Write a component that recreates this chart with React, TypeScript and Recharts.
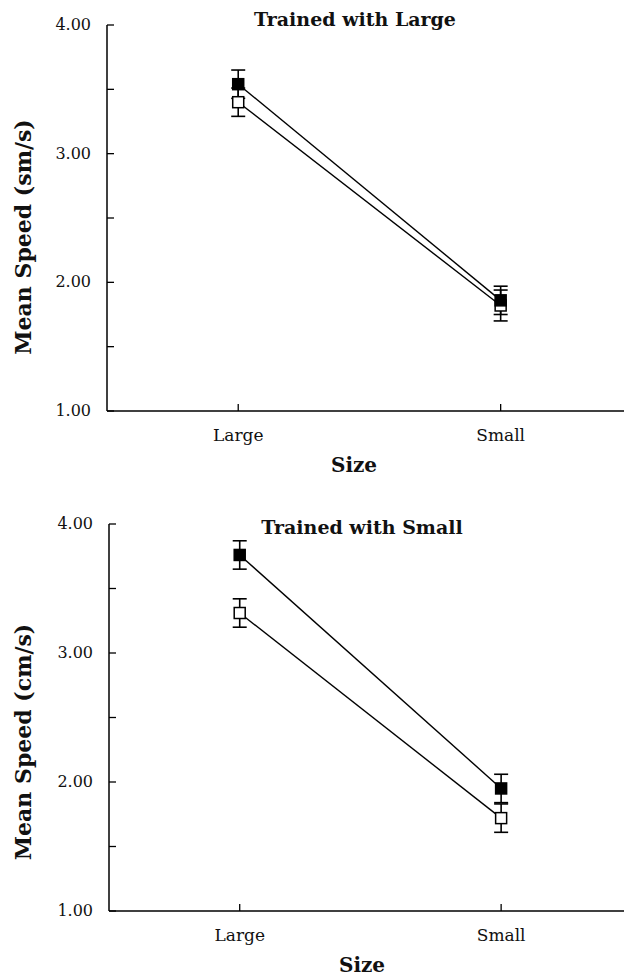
import { ErrorBar, Line, LineChart, XAxis, YAxis } from "recharts";

const SIZES = ["Large", "Small"];
const Y_TICKS = [1, 1.5, 2, 2.5, 3, 3.5, 4];

// trained with large
const LARGE_FILLED = [3.54, 1.86];
const LARGE_FILLED_ERR = [0.11, 0.11];
const LARGE_OPEN = [3.4, 1.82];
const LARGE_OPEN_ERR = [0.11, 0.12];

// trained with small
const SMALL_FILLED = [3.76, 1.95];
const SMALL_FILLED_ERR = [0.11, 0.11];
const SMALL_OPEN = [3.31, 1.72];
const SMALL_OPEN_ERR = [0.11, 0.11];

const FONT = "'DejaVu Serif', 'Liberation Serif', serif";

function buildRows(filled: number[], filledErr: number[], open: number[], openErr: number[]) {
  return SIZES.map((size, i) => ({
    x: i,
    size,
    filled: filled[i],
    filledErr: filledErr[i],
    open: open[i],
    openErr: openErr[i],
  }));
}

const YTick = (props: any) => {
  const { x, y, payload } = props;
  const v = payload.value as number;
  return (
    <g>
      <line x1={x} x2={x + 7} y1={y} y2={y} stroke="#000" strokeWidth={1.3} />
      {Number.isInteger(v) && (
        <text x={x - 16} y={y} dy={5} textAnchor="end" fontFamily={FONT} fontSize={16} fill="#111">
          {v.toFixed(2)}
        </text>
      )}
    </g>
  );
};

const XTick = (props: any) => {
  const { x, y, payload } = props;
  return (
    <g>
      <line x1={x} x2={x} y1={y} y2={y - 7} stroke="#000" strokeWidth={1.3} />
      <text x={x} y={y + 30} textAnchor="middle" fontFamily={FONT} fontSize={17} fill="#111">
        {SIZES[payload.value]}
      </text>
    </g>
  );
};

const squareDot = (fill: string) => (p: any) => (
  <rect key={p.index} x={p.cx - 5.5} y={p.cy - 5.5} width={11} height={11} fill={fill} stroke="#000" strokeWidth={1.5} />
);

type PanelProps = {
  title: string;
  yLabel: string;
  rows: ReturnType<typeof buildRows>;
  top: number;
  marginTop: number;
  yAxisWidth: number;
  xAxisHeight: number;
  titleX: number;
  titleY: number;
  yLabelY: number;
  sizeX: number;
};

function Panel(p: PanelProps) {
  return (
    <div style={{ position: "absolute", left: 0, top: p.top }}>
      <LineChart width={624} height={488} data={p.rows} margin={{ top: p.marginTop, right: 0, bottom: 0, left: 0 }}>
        <XAxis
          dataKey="x"
          type="number"
          domain={[-0.5, 1.47]}
          allowDataOverflow
          ticks={[0, 1]}
          height={p.xAxisHeight}
          tickSize={0}
          tickMargin={0}
          tick={<XTick />}
          axisLine={{ stroke: "#000", strokeWidth: 1.5 }}
        />
        <YAxis
          type="number"
          domain={[1, 4]}
          ticks={Y_TICKS}
          width={p.yAxisWidth}
          tickSize={0}
          tickMargin={0}
          tick={<YTick />}
          interval={0}
          axisLine={{ stroke: "#000", strokeWidth: 1.5 }}
        />
        <Line
          dataKey="open"
          stroke="#000"
          strokeWidth={1.4}
          dot={squareDot("#fff")}
          activeDot={false}
          isAnimationActive={false}
        >
          <ErrorBar dataKey="openErr" direction="y" width={7} stroke="#000" strokeWidth={1.6} />
        </Line>
        <Line
          dataKey="filled"
          stroke="#000"
          strokeWidth={1.4}
          dot={squareDot("#000")}
          activeDot={false}
          isAnimationActive={false}
        >
          <ErrorBar dataKey="filledErr" direction="y" width={7} stroke="#000" strokeWidth={1.6} />
        </Line>
        <text x={p.titleX} y={p.titleY} textAnchor="middle" fontFamily={FONT} fontWeight="bold" fontSize={19} fill="#111">
          {p.title}
        </text>
        <text
          x={0}
          y={0}
          transform={`translate(31, ${p.yLabelY}) rotate(-90)`}
          textAnchor="middle"
          fontFamily={FONT}
          fontWeight="bold"
          fontSize={22}
          fill="#111"
        >
          {p.yLabel}
        </text>
        <text x={p.sizeX} y={488 - p.xAxisHeight + 61} textAnchor="middle" fontFamily={FONT} fontWeight="bold" fontSize={20} fill="#111">
          Size
        </text>
      </LineChart>
    </div>
  );
}

export default function App() {
  return (
    <div style={{ position: "absolute", left: 0, top: 0, width: 624, height: 976, background: "#fff" }}>
      <Panel
        title="Trained with Large"
        yLabel="Mean Speed (sm/s)"
        rows={buildRows(LARGE_FILLED, LARGE_FILLED_ERR, LARGE_OPEN, LARGE_OPEN_ERR)}
        top={0}
        marginTop={25}
        yAxisWidth={107}
        xAxisHeight={77}
        titleX={355}
        titleY={26}
        yLabelY={237}
        sizeX={354}
      />
      <Panel
        title="Trained with Small"
        yLabel="Mean Speed (cm/s)"
        rows={buildRows(SMALL_FILLED, SMALL_FILLED_ERR, SMALL_OPEN, SMALL_OPEN_ERR)}
        top={488}
        marginTop={36}
        yAxisWidth={109}
        xAxisHeight={65}
        titleX={362}
        titleY={46}
        yLabelY={254}
        sizeX={362}
      />
    </div>
  );
}
